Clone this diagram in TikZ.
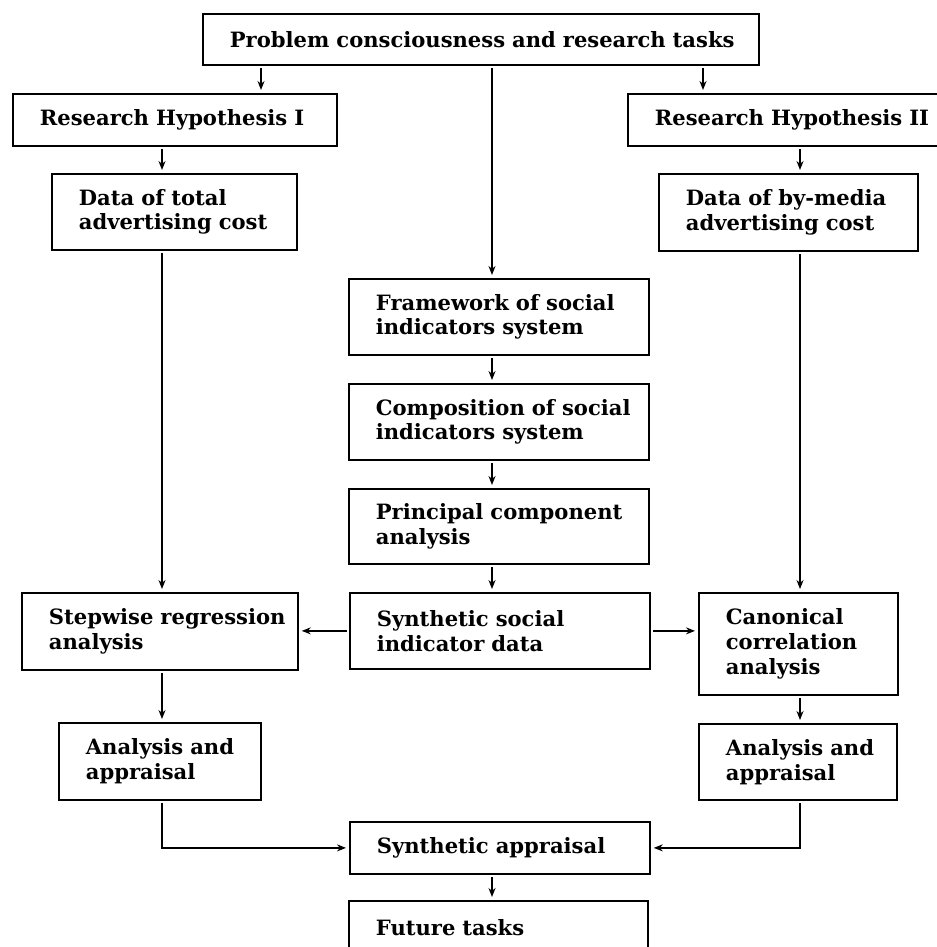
\documentclass[tikz,border=0pt]{standalone}
\usepackage{fontspec}
\setmainfont{DejaVu Serif}
\usetikzlibrary{arrows.meta}

\begin{document}
\begin{tikzpicture}[x=0.2mm,y=-0.2mm,>={Stealth[length=1.8mm,width=1.4mm]},
  stage/.style={draw,line width=1pt,anchor=north west,align=left,
    inner xsep=0pt,inner ysep=0pt,font=\fontsize{12}{14}\selectfont\bfseries,
    execute at begin node={\leftskip=5.4mm\hyphenpenalty=10000\relax}},
  link/.style={->,line width=0.8pt,shorten <=0.5mm,shorten >=0.6mm}]
  \useasboundingbox (0,0) rectangle (936,947);
  \coordinate (colA) at (162,0);
  \coordinate (colH1) at (261,0);
  \coordinate (colM) at (492,0);
  \coordinate (colH2) at (703,0);
  \coordinate (colB) at (800,0);

  \node[stage,text width=111.2mm,minimum height=10.2mm] (prob) at (202,13) {Problem consciousness and research tasks};
  \node[stage,text width=64.8mm,minimum height=10.4mm] (hypA) at (12,93) {Research Hypothesis I};
  \node[stage,text width=68mm,minimum height=10.4mm] (hypB) at (627,93) {Research Hypothesis II};
  \node[stage,text width=49mm,minimum height=15.2mm] (dataA) at (51,173) {Data of total\\advertising cost};
  \node[stage,text width=51.8mm,minimum height=15.4mm] (dataB) at (658,173) {Data of by-media\\advertising cost};
  \node[stage,text width=60mm,minimum height=15.2mm] (frame) at (348,278) {Framework of social\\indicators system};
  \node[stage,text width=60mm,minimum height=15.2mm] (comp) at (348,383) {Composition of social\\indicators system};
  \node[stage,text width=60mm,minimum height=15mm] (princ) at (348,488) {Principal component\\analysis};
  \node[stage,text width=60mm,minimum height=15.2mm] (synth) at (349,592) {Synthetic social\\indicator data};
  \node[stage,text width=55.2mm,minimum height=15.4mm] (step) at (21,592) {Stepwise regression\\analysis};
  \node[stage,text width=39.8mm,minimum height=20.4mm] (canon) at (698,592) {Canonical\\correlation\\analysis};
  \node[stage,text width=40.4mm,minimum height=15.4mm] (apprA) at (58,722) {Analysis and\\appraisal};
  \node[stage,text width=39.6mm,minimum height=15.2mm] (apprB) at (698,723) {Analysis and\\appraisal};
  \node[stage,text width=60mm,minimum height=10.4mm] (synapp) at (349,821) {Synthetic appraisal};
  \node[stage,text width=59.8mm,minimum height=10.6mm] (future) at (348,900) {Future tasks};

  \draw[link] (prob.south -| colH1) -- (hypA.north -| colH1);
  \draw[link] (prob.south -| colH2) -- (hypB.north -| colH2);
  \draw[link] (prob.south -| colM) -- (frame.north -| colM);
  \draw[link] (hypA.south -| colA) -- (dataA.north -| colA);
  \draw[link] (hypB.south -| colB) -- (dataB.north -| colB);
  \draw[link] (dataA.south -| colA) -- (step.north -| colA);
  \draw[link] (dataB.south -| colB) -- (canon.north -| colB);
  \draw[link] (frame.south -| colM) -- (comp.north -| colM);
  \draw[link] (comp.south -| colM) -- (princ.north -| colM);
  \draw[link] (princ.south -| colM) -- (synth.north -| colM);
  \draw[link] (synth.west) -- (synth.west -| step.east);
  \draw[link] (synth.east) -- (synth.east -| canon.west);
  \draw[link] (step.south -| colA) -- (apprA.north -| colA);
  \draw[link] (canon.south -| colB) -- (apprB.north -| colB);
  \draw[link] (apprA.south -| colA) |- (synapp.west);
  \draw[link] (apprB.south -| colB) |- (synapp.east);
  \draw[link] (synapp.south -| colM) -- (future.north -| colM);
\end{tikzpicture}
\end{document}
